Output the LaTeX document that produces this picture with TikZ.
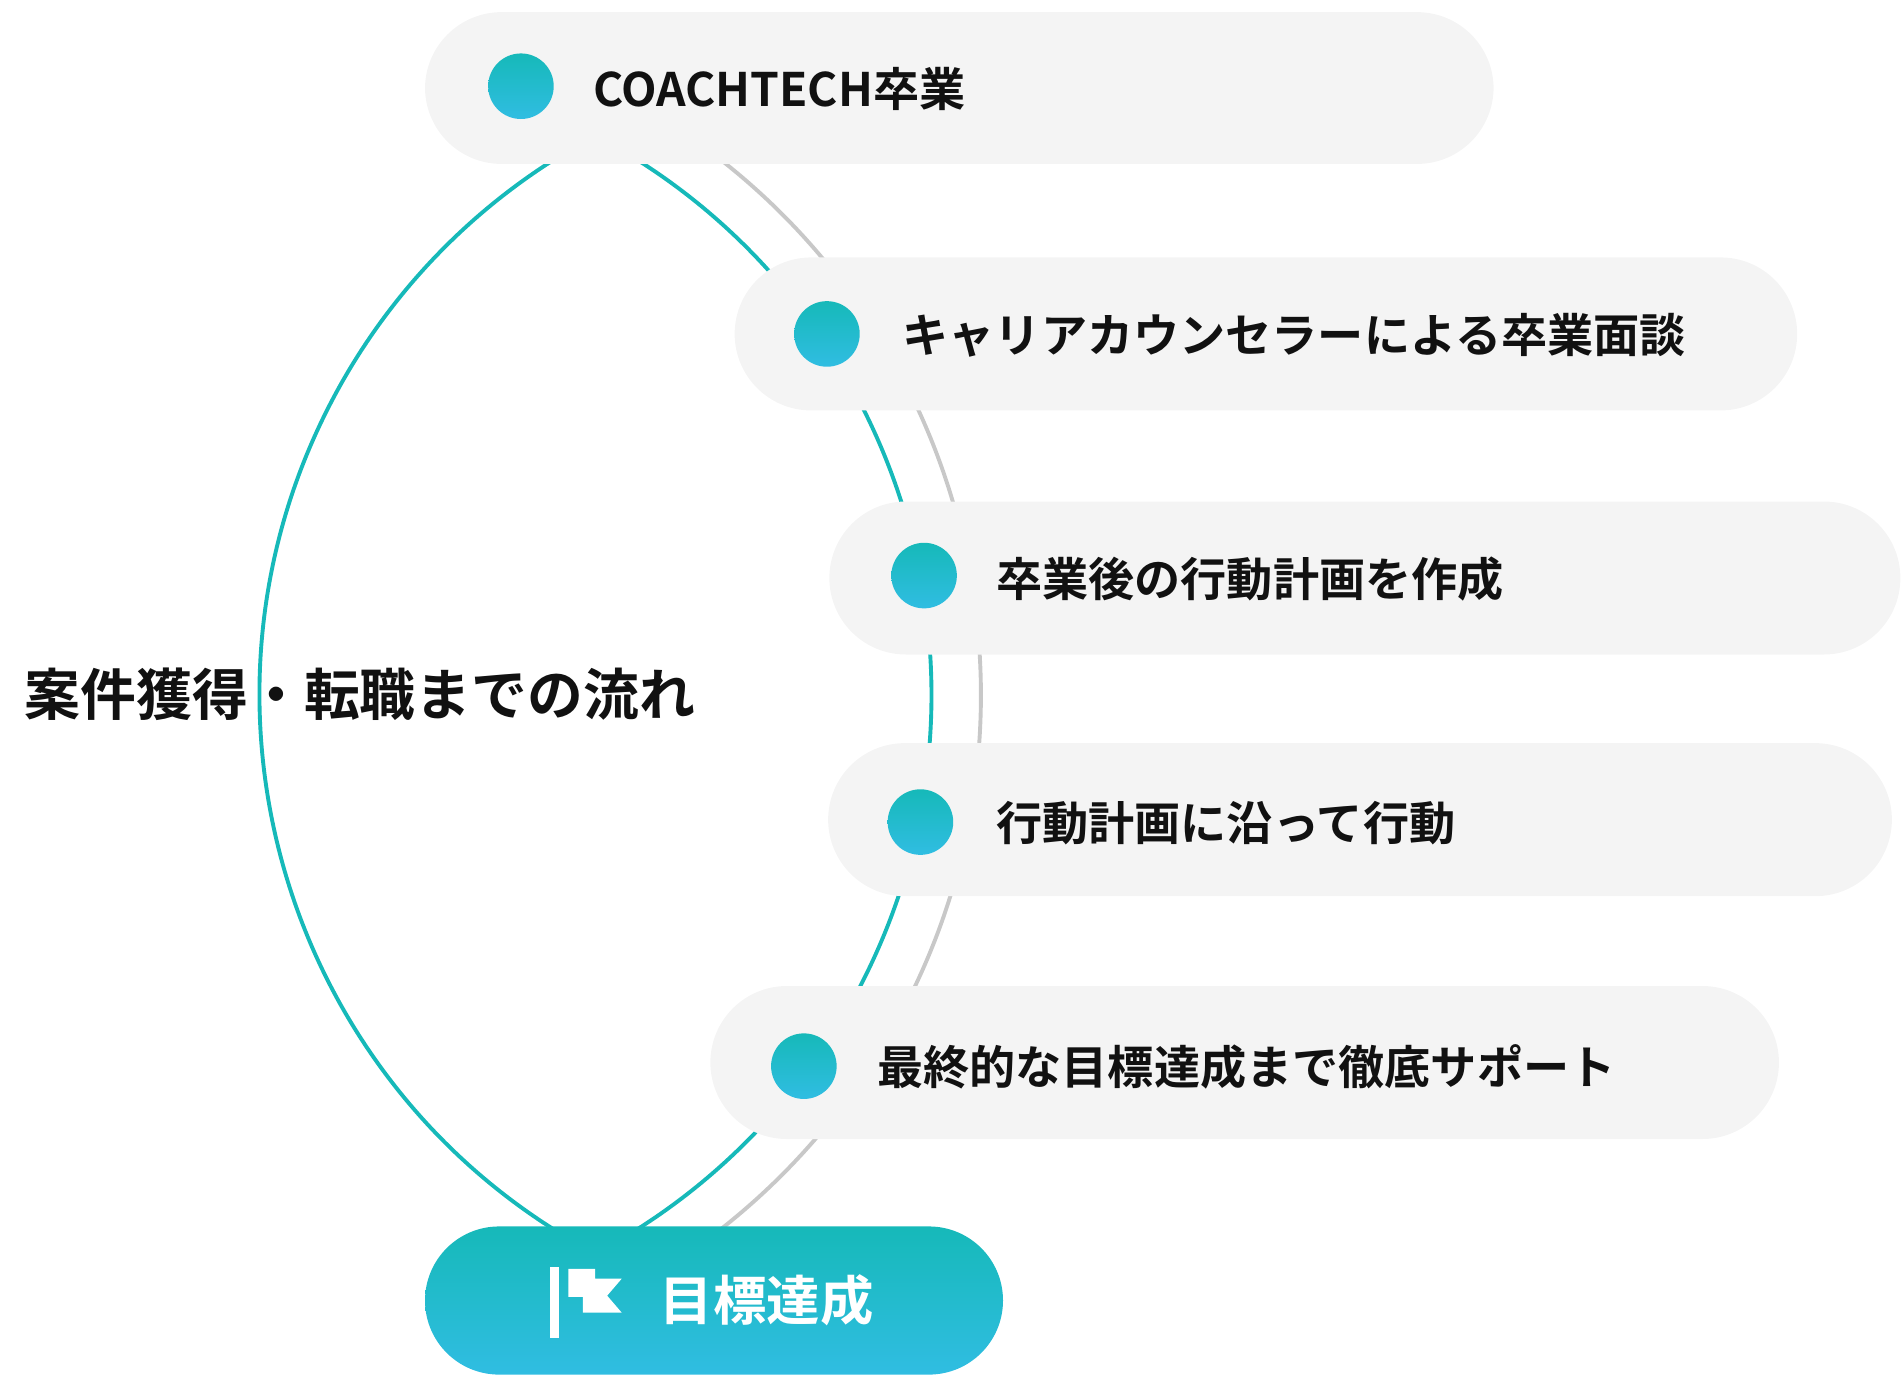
\documentclass[tikz,border=0pt]{standalone}
\usepackage{fontspec}
\setmainfont{Noto Sans CJK JP}[BoldFont={* Bold}]
\definecolor{pillbg}{HTML}{F4F4F4}
\definecolor{tealA}{HTML}{16B9B9}
\definecolor{tealB}{HTML}{30BDE2}
\definecolor{grayarc}{HTML}{C8C8C8}
\definecolor{ink}{HTML}{111111}
\tikzset{
  pill/.style={fill=pillbg,draw=none,rounded corners=31.5pt},
  dot/.style={circle,minimum size=27pt,inner sep=0pt,top color=tealA,bottom color=tealB},
  lbl/.style={anchor=west,font=\fontsize{19pt}{22pt}\selectfont\bfseries,text=ink,inner sep=0pt},
}
\begin{document}
\begin{tikzpicture}[x=0.5pt,y=-0.5pt]
\useasboundingbox (0,0) rectangle (1568,1140);
\draw[tealA,line width=1.6pt] (245.6,572) ++(62:521.4) arc[start angle=-62,end angle=62,radius=-521.4];
\draw[grayarc,line width=1.6pt] (248,572) ++(-62:559.7) arc[start angle=-62,end angle=62,radius=559.7];
\draw[tealA,line width=1.6pt] (245.6,572) ++(-62:521.4) arc[start angle=-62,end angle=62,radius=521.4];
\fill[pillbg,rounded corners=31.5pt] (350,10) rectangle (1230,135);
\fill[pillbg,rounded corners=31.5pt] (605,212) rectangle (1480,338);
\fill[pillbg,rounded corners=31.5pt] (683,413) rectangle (1565,539);
\fill[pillbg,rounded corners=31.5pt] (682,612) rectangle (1558,738);
\fill[pillbg,rounded corners=31.5pt] (585,812) rectangle (1465,938);
\node[dot] (d1) at (429,71) {};
\node[dot] (d2) at (681,275) {};
\node[dot] (d3) at (761,474) {};
\node[dot] (d4) at (758,677) {};
\node[dot] (d5) at (662,878) {};
\node[lbl] (t1) at (488,73) {COACHTECH卒業};
\node[lbl] (t2) at (743,276) {キャリアカウンセラーによる卒業面談};
\node[lbl] (t3) at (820,477) {卒業後の行動計画を作成};
\node[lbl] (t4) at (820,678) {行動計画に沿って行動};
\node[lbl] (t5) at (722,879) {最終的な目標達成まで徹底サポート};
\shade[top color=tealA,bottom color=tealB,rounded corners=30.5pt] (350,1010) rectangle (826,1132);
\fill[white] (453,1043) rectangle (460,1102);
\fill[white] (468,1045) -- (490,1045) -- (490,1053) -- (512,1053) -- (500,1067) -- (512,1081) -- (480,1081) -- (480,1068) -- (468,1068) -- cycle;
\node[lbl,text=white,font=\fontsize{22pt}{26pt}\selectfont\bfseries] (goal) at (543,1071) {目標達成};
\node[lbl,font=\fontsize{23pt}{27pt}\selectfont\bfseries] (title) at (20,572) {案件獲得・転職までの流れ};
\end{tikzpicture}
\end{document}
